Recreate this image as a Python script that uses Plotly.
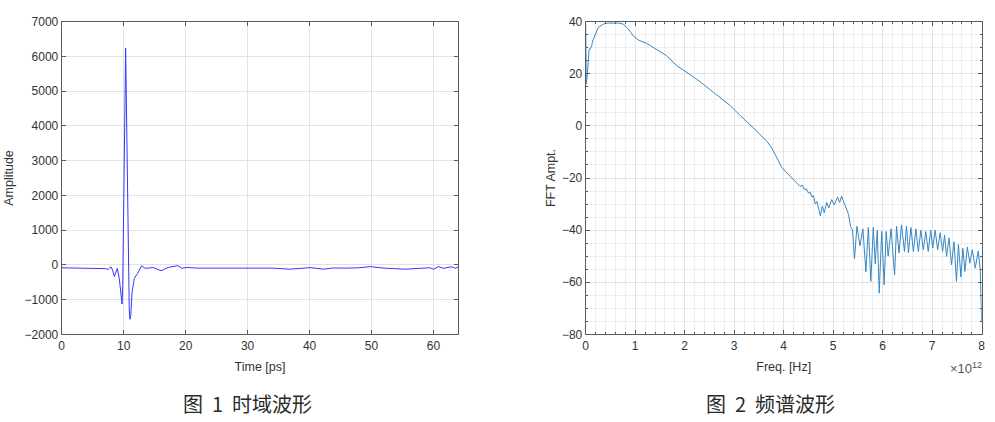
import plotly.graph_objects as go

# ---- Figure 1: time-domain waveform ----
time_ps = [0, 2, 4, 6, 7.0, 7.5, 7.96, 8.2, 8.5, 8.98, 9.3, 9.6, 9.73, 9.85, 10.32, 10.9,
           11.02, 11.15, 11.35, 11.72, 12.26, 12.91, 13.45, 14.8, 16.03, 17.2, 18.7, 19.4,
           20.2, 22, 25, 28, 32, 34, 36.8, 38.5, 40.1, 42.2, 43.8, 46, 48, 49.8, 52, 55.4,
           57.5, 59.4, 60.0, 60.8, 61.6, 62.95, 63.5, 64]
amplitude = [-85, -90, -85, -95, -110, -130, -54, -150, -341, -100, -400, -900, -1128, -600,
             6235, -1300, -1568, -1450, -800, -388, -245, -25, -100, -80, -170, -75, -25, -100,
             -75, -95, -90, -95, -80, -95, -125, -100, -80, -125, -90, -95, -85, -50, -95, -125,
             -100, -85, -125, -50, -100, -55, -100, -55]

# ---- Figure 2: spectrum (freq in units of 1e12 Hz) ----
freq = [0, 0.01, 0.033, 0.05, 0.07, 0.09, 0.12, 0.14, 0.19, 0.255, 0.356, 0.457, 0.558,
        0.659, 0.76, 0.86, 0.96, 1.06, 1.23, 1.43, 1.63, 1.84, 2.04, 2.24, 2.58, 2.92, 3.12,
        3.25, 3.39, 3.52, 3.66, 3.76, 3.86, 3.96, 4.03, 4.13, 4.23, 4.33, 4.38, 4.42, 4.46,
        4.50, 4.53, 4.57, 4.60, 4.64, 4.67, 4.70, 4.74, 4.78, 4.82, 4.87, 4.91, 4.97, 5.02,
        5.09, 5.13, 5.17, 5.22, 5.26, 5.31, 5.35, 5.39, 5.43,
        5.48, 5.54, 5.60, 5.66, 5.71, 5.76, 5.81, 5.85, 5.89, 5.93, 5.98, 6.03, 6.07, 6.11,
        6.17, 6.24, 6.28, 6.33, 6.38, 6.44, 6.48, 6.52, 6.57, 6.62, 6.67, 6.72, 6.77, 6.82,
        6.87, 6.92, 6.97, 7.01, 7.06, 7.11, 7.16, 7.21, 7.25, 7.29, 7.34, 7.39, 7.44, 7.49,
        7.53, 7.58, 7.62, 7.66, 7.71, 7.76, 7.81, 7.87, 7.93, 7.97, 8.0]
fft_ampt = [39, 16, 19.7, 24, 29.5, 29.5, 30.7, 32.6, 35.2, 37.8, 39.1, 39.5, 39.4,
            39.5, 39.1, 37.2, 34.6, 33, 31.7, 29.5, 27, 23.1, 20.6, 18, 12.9, 7.8, 4,
            1.8, -0.8, -3.3, -5.9, -8.5, -12.3, -15.9, -17.4, -19.4, -21.3, -23.2, -22.8, -24.5, -24.2,
            -25.8, -25.4, -27.3, -26.8, -30, -29, -32, -34.5, -30.8, -33.3, -29.4, -31.5, -28.3, -30.3,
            -27.3, -29.4, -27, -29.2, -31.5, -34, -38.6, -40, -51,
            -38.5, -46, -39.5, -56, -39, -59.7, -39, -53, -40, -64.2, -40.5, -61, -40.5, -50,
            -39.5, -57.2, -38.5, -48.8, -38, -48.2, -38.5, -48.8, -39, -48.2, -39.5, -48.2, -40, -47.6,
            -40.5, -48.2, -40, -46.9, -40, -47.6, -41, -48.2, -42, -50.1, -43, -53.3, -44.5, -59.7,
            -45.5, -58, -47, -55.9, -46.5, -52.7, -47.5, -54.6, -48, -55, -75]

x1_ticks = [0, 10, 20, 30, 40, 50, 60]
y1_ticks = [-2000, -1000, 0, 1000, 2000, 3000, 4000, 5000, 6000, 7000]
x2_ticks = [0, 1, 2, 3, 4, 5, 6, 7, 8]
y2_ticks = [-80, -60, -40, -20, 0, 20, 40]

captions = ["图\u00a0\u00a01\u00a0\u00a0时域波形", "图\u00a0\u00a02\u00a0\u00a0频谱波形"]

W, H = 995, 422


def px(x):
    return x / W


def py(y):
    return 1 - y / H


ydom = [py(334.3), py(21.7)]

fig = go.Figure()
fig.add_trace(go.Scatter(x=time_ps, y=amplitude, mode="lines",
                         line=dict(color="#3535ff", width=1), xaxis="x", yaxis="y",
                         showlegend=False))
fig.add_trace(go.Scatter(x=freq, y=fft_ampt, mode="lines",
                         line=dict(color="#3886c2", width=1), xaxis="x2", yaxis="y2",
                         showlegend=False))

FONT = "Liberation Sans, Arial, sans-serif"
tickfont = dict(family=FONT, size=12, color="#333333")
titlefont = dict(family=FONT, size=12.5, color="#333333")
axcommon = dict(showline=True, linecolor="#5a5a5a", linewidth=1, mirror="ticks",
                ticks="inside", ticklen=4, tickcolor="#5a5a5a", tickfont=tickfont,
                zeroline=False, gridcolor="#e2e2e2", gridwidth=1, automargin=False)

fig.update_layout(
    width=W, height=H, margin=dict(l=0, r=0, t=0, b=0),
    paper_bgcolor="white", plot_bgcolor="white",
    xaxis=dict(domain=[px(61.7), px(458.3)], range=[0, 64], tickvals=x1_ticks,
               title=dict(text="Time [ps]", standoff=10, font=titlefont),
               anchor="y", **axcommon),
    yaxis=dict(domain=ydom, range=[-2000, 7000], tickvals=y1_ticks,
               title=dict(text="Amplitude", standoff=8, font=titlefont),
               anchor="x", **axcommon),
    xaxis2=dict(domain=[px(585.7), px(981.7)], range=[0, 8], tickvals=x2_ticks,
                title=dict(text="Freq. [Hz]", standoff=10, font=titlefont),
                anchor="y2",
                minor=dict(dtick=0.2, showgrid=True, gridcolor="#ededed", ticks="inside",
                           ticklen=2, tickcolor="#5a5a5a"),
                **axcommon),
    yaxis2=dict(domain=ydom, range=[-80, 40], tickvals=y2_ticks,
                title=dict(text="FFT Ampt.", standoff=3, font=titlefont),
                anchor="x2",
                minor=dict(dtick=5, showgrid=True, gridcolor="#ededed", ticks="inside",
                           ticklen=2, tickcolor="#5a5a5a"),
                **axcommon),
)

fig.add_annotation(text="×10<sup>12</sup>", xref="paper", yref="paper",
                   x=px(984), y=py(368), xanchor="right", yanchor="middle",
                   showarrow=False, font=dict(family=FONT, size=13, color="#555"))
for cap, cx in zip(captions, [247, 770]):
    fig.add_annotation(text=cap, xref="paper", yref="paper",
                       x=px(cx), y=py(403), xanchor="center", yanchor="middle",
                       showarrow=False,
                       font=dict(family="Noto Sans CJK SC", size=20, color="#2a2a2a"))

fig.write_html("out.html",
               config={"displayModeBar": False},
               post_script="document.body.style.margin='0';"
                           "document.body.style.overflow='hidden';")
